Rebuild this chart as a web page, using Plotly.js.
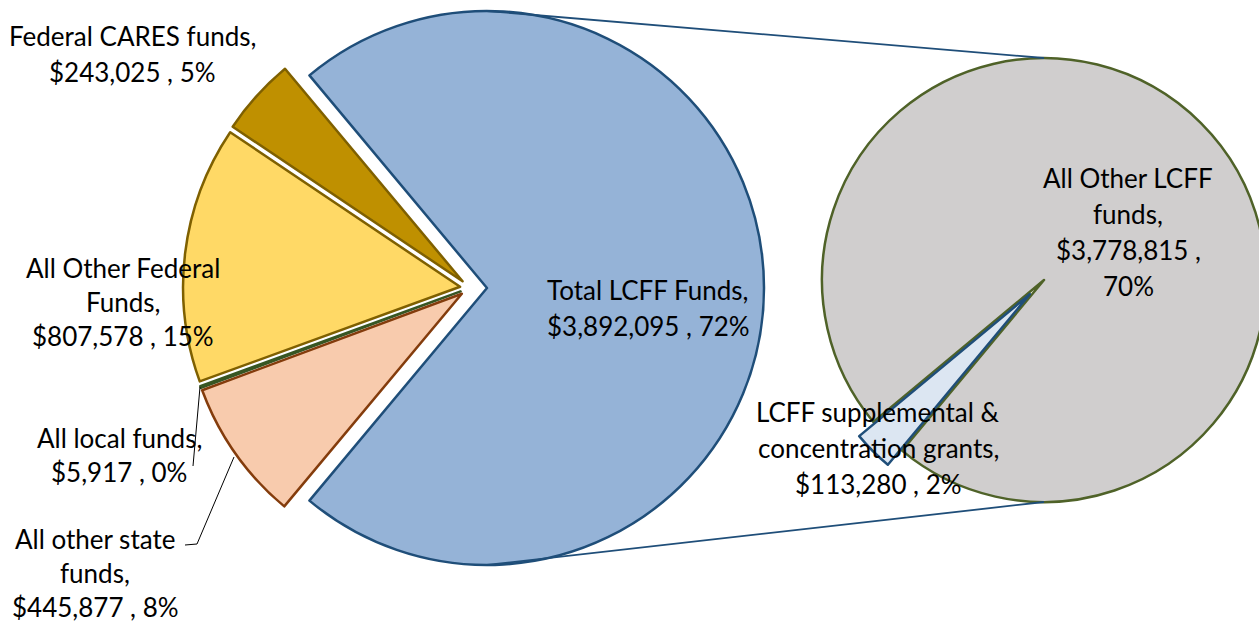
<!DOCTYPE html>
<html><head><meta charset="utf-8">
<script src="https://cdn.plot.ly/plotly-3.0.1.min.js"></script>
<style>
html,body{margin:0;padding:0;overflow:hidden;background:#fff;width:1259px;height:625px;}
#chart{position:absolute;left:0;top:-8px;width:1300px;height:640px;}
</style>
</head><body><div id="chart"></div>
<script>
// ---- Main pie data ----
const mainLabels = ['Total LCFF Funds', 'Federal CARES funds', 'All Other Federal<br>Funds', 'All local funds', 'All other state<br>funds'];
const mainValues = [3892095, 243025, 807578, 5917, 445877];
const mainColors = ['#95B3D7', '#BF9000', '#FFD966', '#4F6228', '#F8CBAD'];
const mainLineColors = ['#1F4E79', '#7F6000', '#7F6000', '#375623', '#843C0C'];

// ---- Secondary pie data (breakdown of Total LCFF Funds) ----
const subLabels = ['All Other LCFF<br>funds', 'LCFF supplemental &<br>concentration grants'];
const subValues = [3778815, 113280];
const subColors = ['#D0CECE', '#DCE6F2'];
const subLineColors = ['#4F6228', '#1F4E79'];

// ---- Geometry (screen px) ----
const W = 1300, H = 640, OFF = 8;
const main = {cx: 470, cy: 288, r: 277, pullBig: 17, pullSmall: 10};
const sub = {cx: 1044, cy: 280, r: 222, pullSmall: 20};

function px(x){ return x / W; }
function py(y){ return 1 - (y + OFF) / H; }
function domain(cx, cy, r, maxPull){
  const h = r * (1 + maxPull);
  return {x: [px(cx - h), px(cx + h)], y: [py(cy + h), py(cy - h)]};
}

const total = mainValues.reduce((a, b) => a + b, 0);
const subTotal = subValues.reduce((a, b) => a + b, 0);
const fmtMoney = v => '$' + v.toLocaleString('en-US');
const fmtPct = v => Math.round(v / total * 100) + '%';

const mainPulls = mainValues.map((v, i) => i === 0 ? main.pullBig / main.r : main.pullSmall / main.r);
const mainMaxPull = Math.max(...mainPulls);
// counterclockwise: first slice spans [rotation, rotation + its angle] (clockwise from 12 o'clock)
const mainRot = 90 - (mainValues[0] / total) * 180;

const subPulls = subValues.map((v, i) => i === 0 ? 0 : sub.pullSmall / sub.r);
const subMaxPull = Math.max(...subPulls);
const subRot = 225 + (subValues[1] / subTotal) * 180;

const traces = [
  {
    type: 'pie', labels: mainLabels, values: mainValues, sort: false,
    direction: 'counterclockwise', rotation: mainRot, pull: mainPulls,
    marker: {colors: mainColors, line: {color: mainLineColors, width: 2.5}},
    textinfo: 'none', hoverinfo: 'none', showlegend: false,
    domain: domain(main.cx, main.cy, main.r, mainMaxPull)
  },
  {
    type: 'pie', labels: subLabels, values: subValues, sort: false,
    direction: 'counterclockwise', rotation: subRot, pull: subPulls,
    marker: {colors: subColors, line: {color: subLineColors, width: 2.5}},
    textinfo: 'none', hoverinfo: 'none', showlegend: false,
    domain: domain(sub.cx, sub.cy, sub.r, subMaxPull)
  }
];

// ---- Labels: [text lines], center x, first line y, line spacing ----
function labelLines(label, value, breakValue){
  const lines = label.split('<br>');
  lines[lines.length - 1] += ',';
  if (breakValue) { lines.push(fmtMoney(value) + ' ,'); lines.push(fmtPct(value)); }
  else lines.push(fmtMoney(value) + ' , ' + fmtPct(value));
  return lines;
}
const labelPos = [
  {lines: labelLines(mainLabels[0], mainValues[0]), x: 648, y: 290, dy: 36},
  {lines: labelLines(mainLabels[1], mainValues[1]), x: 132, y: 36, dy: 36},
  {lines: labelLines(mainLabels[2], mainValues[2]), x: 123, y: 268, dy: 34},
  {lines: labelLines(mainLabels[3], mainValues[3]), x: 119, y: 438, dy: 34},
  {lines: labelLines(mainLabels[4], mainValues[4]), x: 95, y: 539, dy: 34},
  {lines: labelLines(subLabels[0], subValues[0], true), x: 1128, y: 178, dy: 36},
  {lines: labelLines(subLabels[1], subValues[1]), x: 878, y: 412, dy: 36}
];
const annotations = [];
labelPos.forEach(L => {
  L.lines.forEach((t, k) => {
    annotations.push({
      text: t, x: px(L.x), y: py(L.y + k * L.dy), xref: 'paper', yref: 'paper',
      xanchor: 'center', yanchor: 'middle', showarrow: false,
      font: {family: 'Lato, sans-serif', size: 26, color: '#000'}
    });
  });
});

// ---- Connector lines (from the pie geometry) and leader lines ----
const blueCx = main.cx + main.pullBig;
const shapes = [
  {type: 'line', xref: 'paper', yref: 'paper', x0: px(blueCx), y0: py(main.cy - main.r), x1: px(sub.cx), y1: py(sub.cy - sub.r), line: {color: '#1F4E79', width: 1.8}},
  {type: 'line', xref: 'paper', yref: 'paper', x0: px(blueCx), y0: py(main.cy + main.r), x1: px(sub.cx), y1: py(sub.cy + sub.r), line: {color: '#1F4E79', width: 1.8}},
  {type: 'line', xref: 'paper', yref: 'paper', x0: px(200), y0: py(387), x1: px(193), y1: py(466), line: {color: '#000', width: 1}},
  {type: 'path', xref: 'paper', yref: 'paper',
   path: 'M' + px(234) + ',' + py(457) + ' L' + px(197) + ',' + py(544) + ' L' + px(185) + ',' + py(545),
   line: {color: '#000', width: 1}}
];

const layout = {
  width: W, height: H, margin: {l: 0, r: 0, t: 0, b: 0},
  paper_bgcolor: '#fff', plot_bgcolor: '#fff',
  showlegend: false, annotations: annotations, shapes: shapes
};
Plotly.newPlot('chart', traces, layout, {displayModeBar: false, staticPlot: true});
</script>
</body></html>
